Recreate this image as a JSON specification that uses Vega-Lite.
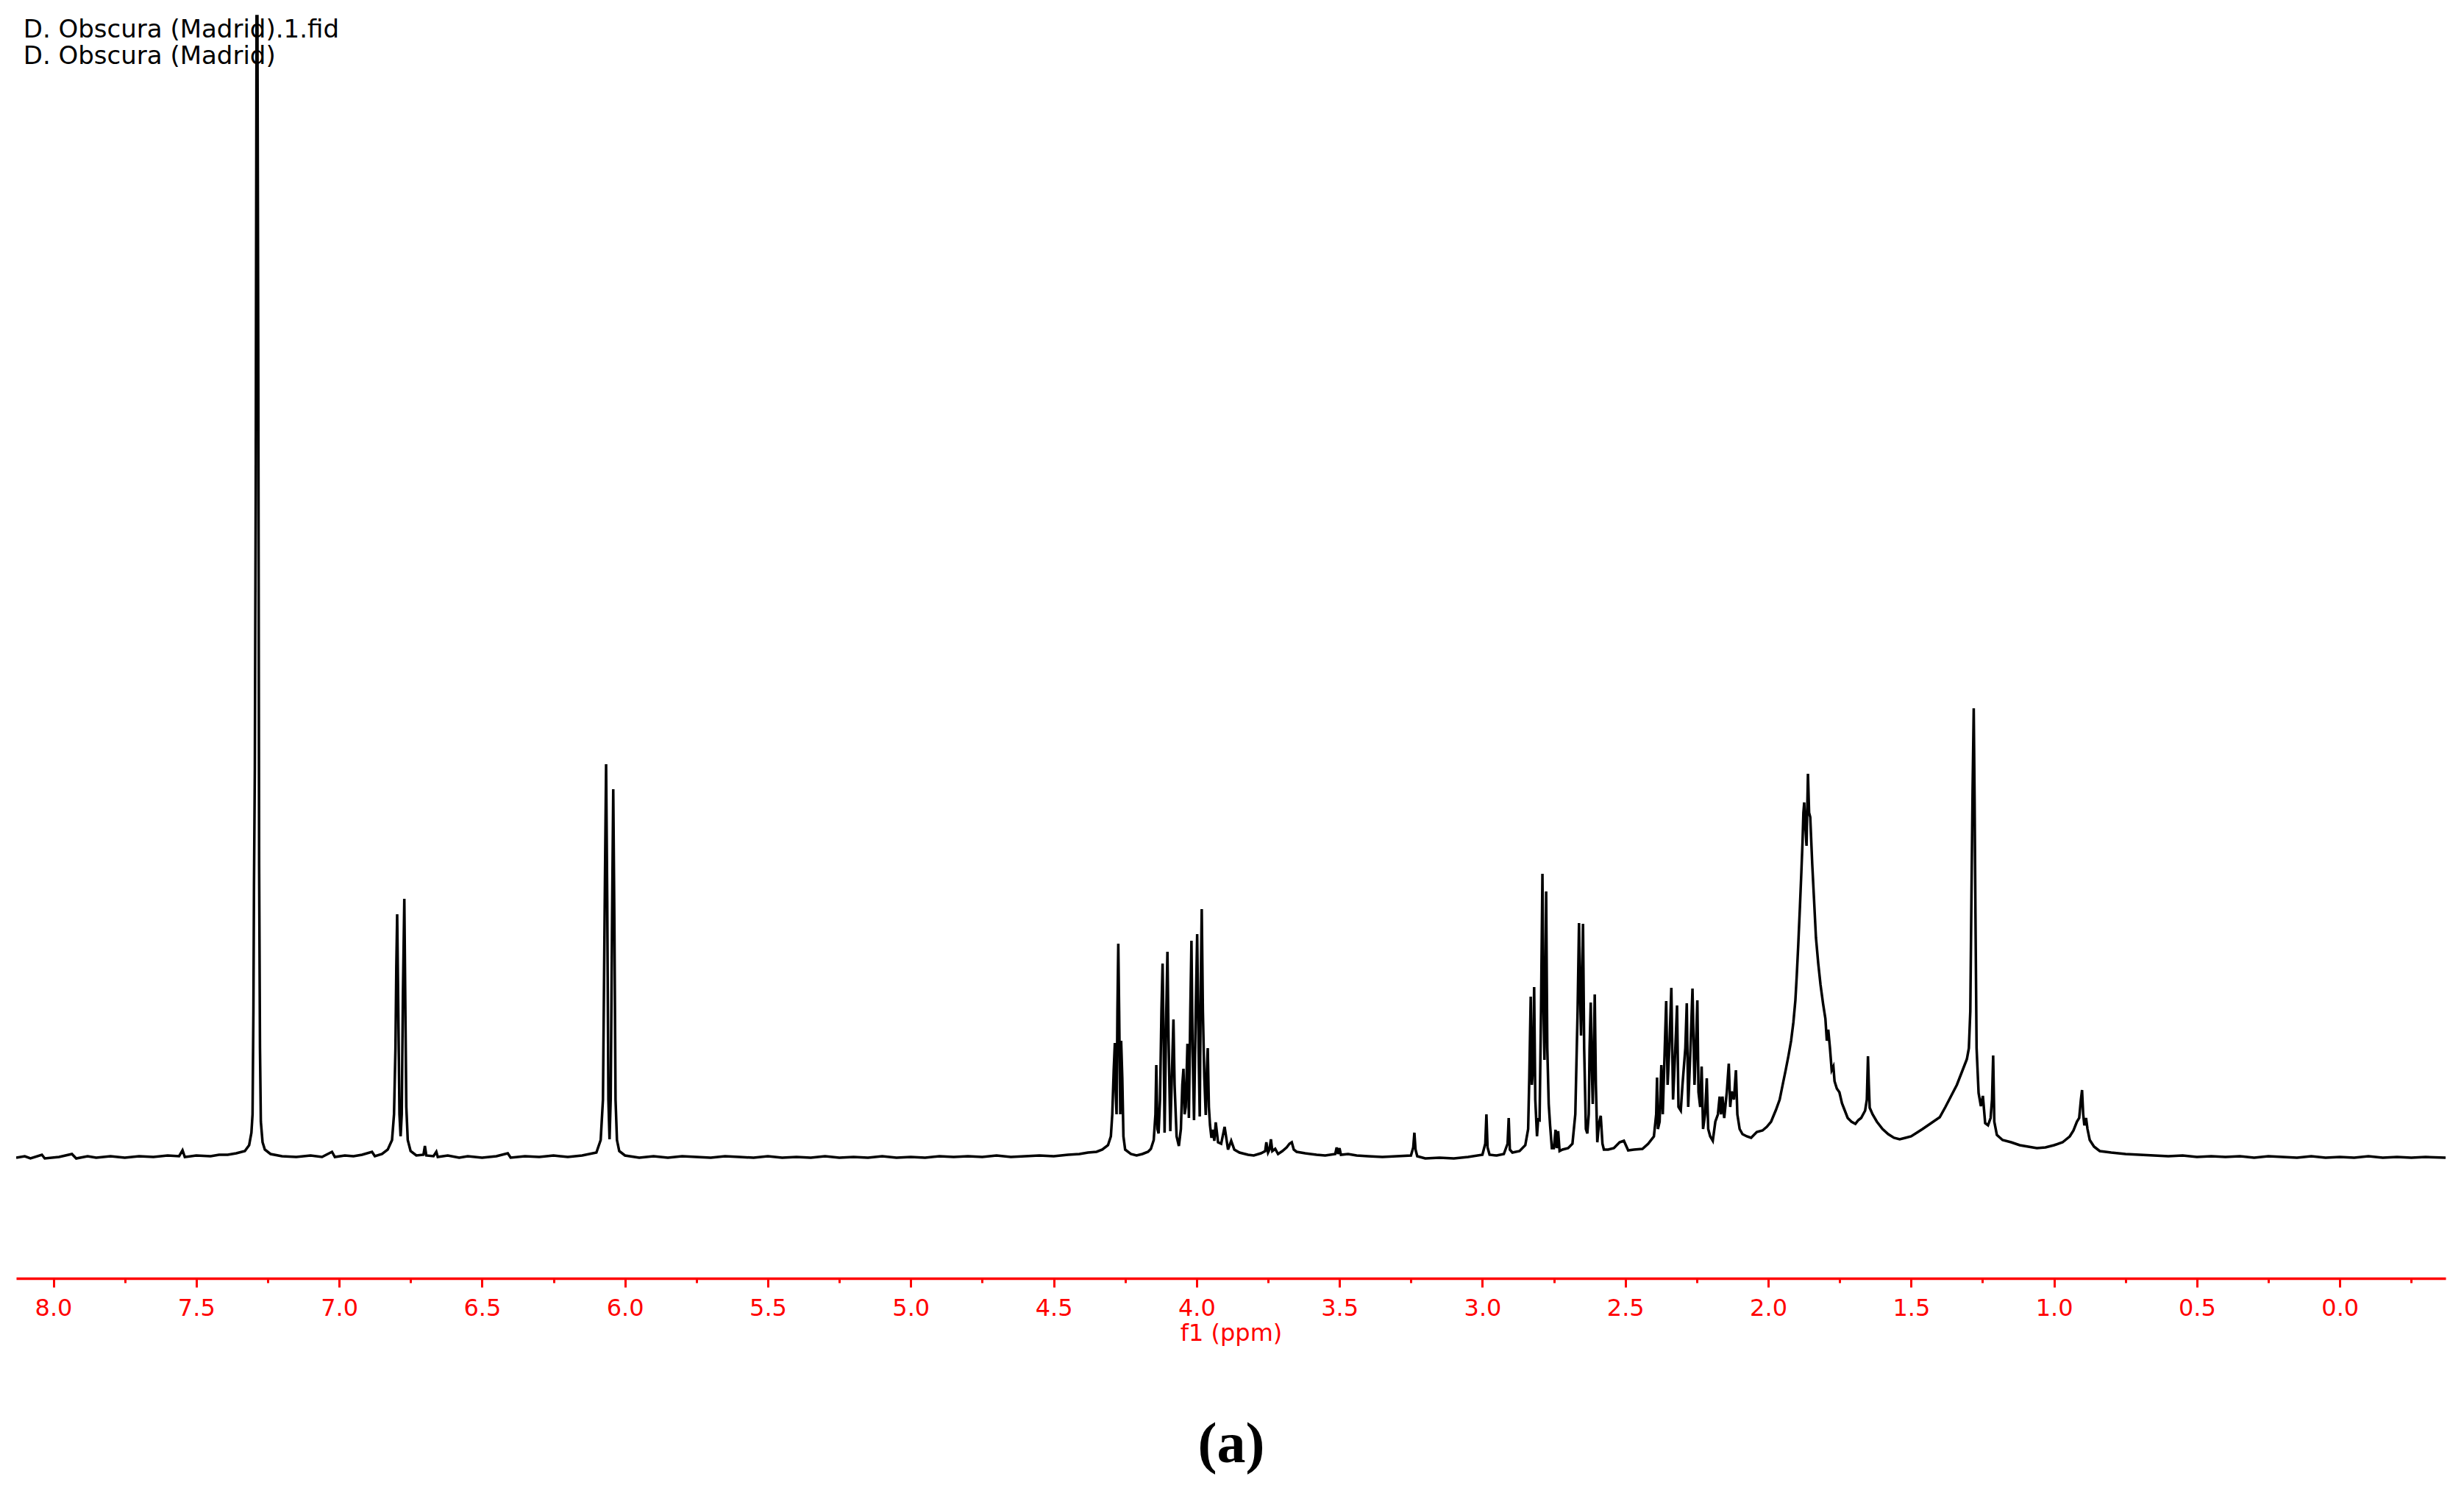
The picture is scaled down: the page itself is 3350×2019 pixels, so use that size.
{
  "$schema": "https://vega.github.io/schema/vega-lite/v6.json",
  "width": 3303,
  "height": 1738,
  "autosize": {"type": "none"},
  "padding": {"left": 22, "right": 25, "top": 0, "bottom": 281},
  "background": "white",
  "config": {"view": {"stroke": null}},
  "data": {"values": [
    {"ppm": 8.13, "intensity": 1}, {"ppm": 8.1, "intensity": 3}, {"ppm": 8.08, "intensity": 0}, {"ppm": 8.04, "intensity": 5},
    {"ppm": 8.03, "intensity": 0}, {"ppm": 7.98, "intensity": 2}, {"ppm": 7.935, "intensity": 6}, {"ppm": 7.92, "intensity": 0},
    {"ppm": 7.88, "intensity": 3}, {"ppm": 7.85, "intensity": 1}, {"ppm": 7.8, "intensity": 3}, {"ppm": 7.75, "intensity": 1},
    {"ppm": 7.7, "intensity": 3}, {"ppm": 7.65, "intensity": 2}, {"ppm": 7.6, "intensity": 4}, {"ppm": 7.56, "intensity": 3},
    {"ppm": 7.548, "intensity": 11}, {"ppm": 7.54, "intensity": 2}, {"ppm": 7.5, "intensity": 4}, {"ppm": 7.45, "intensity": 3},
    {"ppm": 7.42, "intensity": 5}, {"ppm": 7.39, "intensity": 5}, {"ppm": 7.36, "intensity": 7}, {"ppm": 7.33, "intensity": 10},
    {"ppm": 7.315, "intensity": 18}, {"ppm": 7.307, "intensity": 35}, {"ppm": 7.303, "intensity": 60}, {"ppm": 7.3, "intensity": 200},
    {"ppm": 7.298, "intensity": 370}, {"ppm": 7.295, "intensity": 530}, {"ppm": 7.292, "intensity": 900}, {"ppm": 7.289, "intensity": 1553},
    {"ppm": 7.286, "intensity": 1553}, {"ppm": 7.283, "intensity": 1100}, {"ppm": 7.28, "intensity": 400}, {"ppm": 7.277, "intensity": 150},
    {"ppm": 7.274, "intensity": 50}, {"ppm": 7.268, "intensity": 22}, {"ppm": 7.26, "intensity": 12}, {"ppm": 7.24, "intensity": 6},
    {"ppm": 7.2, "intensity": 3}, {"ppm": 7.15, "intensity": 2}, {"ppm": 7.1, "intensity": 4}, {"ppm": 7.06, "intensity": 2},
    {"ppm": 7.025, "intensity": 9}, {"ppm": 7.015, "intensity": 2}, {"ppm": 6.98, "intensity": 4}, {"ppm": 6.95, "intensity": 3},
    {"ppm": 6.92, "intensity": 5}, {"ppm": 6.885, "intensity": 9}, {"ppm": 6.875, "intensity": 3}, {"ppm": 6.85, "intensity": 6},
    {"ppm": 6.83, "intensity": 12}, {"ppm": 6.815, "intensity": 25}, {"ppm": 6.808, "intensity": 60}, {"ppm": 6.803, "intensity": 150},
    {"ppm": 6.8, "intensity": 260}, {"ppm": 6.797, "intensity": 332}, {"ppm": 6.793, "intensity": 200}, {"ppm": 6.789, "intensity": 60},
    {"ppm": 6.785, "intensity": 30}, {"ppm": 6.781, "intensity": 60}, {"ppm": 6.777, "intensity": 220}, {"ppm": 6.772, "intensity": 353},
    {"ppm": 6.769, "intensity": 230}, {"ppm": 6.765, "intensity": 70}, {"ppm": 6.76, "intensity": 25}, {"ppm": 6.75, "intensity": 10},
    {"ppm": 6.73, "intensity": 4}, {"ppm": 6.705, "intensity": 5}, {"ppm": 6.7, "intensity": 17}, {"ppm": 6.695, "intensity": 4},
    {"ppm": 6.67, "intensity": 3}, {"ppm": 6.66, "intensity": 9}, {"ppm": 6.655, "intensity": 2}, {"ppm": 6.62, "intensity": 4},
    {"ppm": 6.58, "intensity": 1}, {"ppm": 6.55, "intensity": 3}, {"ppm": 6.5, "intensity": 1}, {"ppm": 6.45, "intensity": 3},
    {"ppm": 6.41, "intensity": 7}, {"ppm": 6.4, "intensity": 1}, {"ppm": 6.35, "intensity": 3}, {"ppm": 6.3, "intensity": 2},
    {"ppm": 6.25, "intensity": 4}, {"ppm": 6.2, "intensity": 2}, {"ppm": 6.15, "intensity": 4}, {"ppm": 6.1, "intensity": 8},
    {"ppm": 6.085, "intensity": 25}, {"ppm": 6.077, "intensity": 80}, {"ppm": 6.07, "intensity": 380}, {"ppm": 6.066, "intensity": 536},
    {"ppm": 6.062, "intensity": 350}, {"ppm": 6.058, "intensity": 80}, {"ppm": 6.054, "intensity": 26}, {"ppm": 6.05, "intensity": 80},
    {"ppm": 6.045, "intensity": 330}, {"ppm": 6.041, "intensity": 502}, {"ppm": 6.037, "intensity": 320}, {"ppm": 6.033, "intensity": 80},
    {"ppm": 6.028, "intensity": 25}, {"ppm": 6.02, "intensity": 10}, {"ppm": 6.0, "intensity": 4}, {"ppm": 5.95, "intensity": 1},
    {"ppm": 5.9, "intensity": 3}, {"ppm": 5.85, "intensity": 1}, {"ppm": 5.8, "intensity": 3}, {"ppm": 5.75, "intensity": 2},
    {"ppm": 5.7, "intensity": 1}, {"ppm": 5.65, "intensity": 3}, {"ppm": 5.6, "intensity": 2}, {"ppm": 5.55, "intensity": 1},
    {"ppm": 5.5, "intensity": 3}, {"ppm": 5.45, "intensity": 1}, {"ppm": 5.4, "intensity": 2}, {"ppm": 5.35, "intensity": 1},
    {"ppm": 5.3, "intensity": 3}, {"ppm": 5.25, "intensity": 1}, {"ppm": 5.2, "intensity": 2}, {"ppm": 5.15, "intensity": 1},
    {"ppm": 5.1, "intensity": 3}, {"ppm": 5.05, "intensity": 1}, {"ppm": 5.0, "intensity": 2}, {"ppm": 4.95, "intensity": 1},
    {"ppm": 4.9, "intensity": 3}, {"ppm": 4.85, "intensity": 2}, {"ppm": 4.8, "intensity": 3}, {"ppm": 4.75, "intensity": 2},
    {"ppm": 4.7, "intensity": 4}, {"ppm": 4.65, "intensity": 2}, {"ppm": 4.6, "intensity": 3}, {"ppm": 4.55, "intensity": 4},
    {"ppm": 4.5, "intensity": 3}, {"ppm": 4.45, "intensity": 5}, {"ppm": 4.41, "intensity": 6}, {"ppm": 4.38, "intensity": 8},
    {"ppm": 4.35, "intensity": 9}, {"ppm": 4.33, "intensity": 12}, {"ppm": 4.31, "intensity": 18}, {"ppm": 4.3, "intensity": 30},
    {"ppm": 4.295, "intensity": 60}, {"ppm": 4.29, "intensity": 120}, {"ppm": 4.286, "intensity": 157}, {"ppm": 4.283, "intensity": 90},
    {"ppm": 4.28, "intensity": 60}, {"ppm": 4.277, "intensity": 200}, {"ppm": 4.274, "intensity": 292}, {"ppm": 4.271, "intensity": 200},
    {"ppm": 4.267, "intensity": 60}, {"ppm": 4.264, "intensity": 160}, {"ppm": 4.26, "intensity": 110}, {"ppm": 4.256, "intensity": 30},
    {"ppm": 4.25, "intensity": 12}, {"ppm": 4.23, "intensity": 6}, {"ppm": 4.21, "intensity": 4}, {"ppm": 4.19, "intensity": 6},
    {"ppm": 4.17, "intensity": 9}, {"ppm": 4.16, "intensity": 13}, {"ppm": 4.15, "intensity": 25}, {"ppm": 4.144, "intensity": 60},
    {"ppm": 4.141, "intensity": 127}, {"ppm": 4.137, "intensity": 40}, {"ppm": 4.133, "intensity": 34}, {"ppm": 4.128, "intensity": 80},
    {"ppm": 4.123, "intensity": 200}, {"ppm": 4.119, "intensity": 265}, {"ppm": 4.115, "intensity": 150}, {"ppm": 4.112, "intensity": 35},
    {"ppm": 4.106, "intensity": 200}, {"ppm": 4.102, "intensity": 281}, {"ppm": 4.098, "intensity": 160}, {"ppm": 4.092, "intensity": 37},
    {"ppm": 4.086, "intensity": 120}, {"ppm": 4.081, "intensity": 189}, {"ppm": 4.077, "intensity": 100}, {"ppm": 4.07, "intensity": 30},
    {"ppm": 4.062, "intensity": 17}, {"ppm": 4.055, "intensity": 40}, {"ppm": 4.05, "intensity": 100}, {"ppm": 4.046, "intensity": 122},
    {"ppm": 4.042, "intensity": 60}, {"ppm": 4.038, "intensity": 70}, {"ppm": 4.032, "intensity": 156}, {"ppm": 4.027, "intensity": 55},
    {"ppm": 4.022, "intensity": 200}, {"ppm": 4.018, "intensity": 296}, {"ppm": 4.014, "intensity": 150}, {"ppm": 4.009, "intensity": 52},
    {"ppm": 4.003, "intensity": 200}, {"ppm": 3.998, "intensity": 305}, {"ppm": 3.993, "intensity": 150}, {"ppm": 3.989, "intensity": 57},
    {"ppm": 3.985, "intensity": 250}, {"ppm": 3.982, "intensity": 339}, {"ppm": 3.978, "intensity": 200}, {"ppm": 3.973, "intensity": 111},
    {"ppm": 3.968, "intensity": 59}, {"ppm": 3.964, "intensity": 120}, {"ppm": 3.961, "intensity": 150}, {"ppm": 3.957, "intensity": 70},
    {"ppm": 3.953, "intensity": 45}, {"ppm": 3.948, "intensity": 28}, {"ppm": 3.943, "intensity": 39}, {"ppm": 3.938, "intensity": 24},
    {"ppm": 3.933, "intensity": 49}, {"ppm": 3.925, "intensity": 22}, {"ppm": 3.914, "intensity": 20}, {"ppm": 3.902, "intensity": 43},
    {"ppm": 3.89, "intensity": 12}, {"ppm": 3.879, "intensity": 24}, {"ppm": 3.868, "intensity": 12}, {"ppm": 3.85, "intensity": 8},
    {"ppm": 3.82, "intensity": 5}, {"ppm": 3.8, "intensity": 4}, {"ppm": 3.775, "intensity": 7}, {"ppm": 3.76, "intensity": 10},
    {"ppm": 3.756, "intensity": 22}, {"ppm": 3.75, "intensity": 8}, {"ppm": 3.745, "intensity": 12}, {"ppm": 3.74, "intensity": 26},
    {"ppm": 3.735, "intensity": 10}, {"ppm": 3.725, "intensity": 13}, {"ppm": 3.715, "intensity": 6}, {"ppm": 3.7, "intensity": 10},
    {"ppm": 3.685, "intensity": 15}, {"ppm": 3.675, "intensity": 20}, {"ppm": 3.667, "intensity": 22}, {"ppm": 3.66, "intensity": 12},
    {"ppm": 3.65, "intensity": 9}, {"ppm": 3.62, "intensity": 7}, {"ppm": 3.58, "intensity": 5}, {"ppm": 3.55, "intensity": 4},
    {"ppm": 3.515, "intensity": 6}, {"ppm": 3.51, "intensity": 15}, {"ppm": 3.505, "intensity": 6}, {"ppm": 3.5, "intensity": 14},
    {"ppm": 3.495, "intensity": 5}, {"ppm": 3.47, "intensity": 6}, {"ppm": 3.44, "intensity": 4}, {"ppm": 3.4, "intensity": 3},
    {"ppm": 3.35, "intensity": 2}, {"ppm": 3.3, "intensity": 3}, {"ppm": 3.25, "intensity": 4}, {"ppm": 3.242, "intensity": 15},
    {"ppm": 3.238, "intensity": 35}, {"ppm": 3.234, "intensity": 12}, {"ppm": 3.228, "intensity": 3}, {"ppm": 3.2, "intensity": 0},
    {"ppm": 3.15, "intensity": 1}, {"ppm": 3.1, "intensity": 0}, {"ppm": 3.05, "intensity": 2}, {"ppm": 3.0, "intensity": 5},
    {"ppm": 2.99, "intensity": 20}, {"ppm": 2.986, "intensity": 60}, {"ppm": 2.982, "intensity": 15}, {"ppm": 2.975, "intensity": 5},
    {"ppm": 2.95, "intensity": 4}, {"ppm": 2.925, "intensity": 6}, {"ppm": 2.912, "intensity": 20}, {"ppm": 2.908, "intensity": 55},
    {"ppm": 2.904, "intensity": 12}, {"ppm": 2.895, "intensity": 8}, {"ppm": 2.87, "intensity": 10}, {"ppm": 2.85, "intensity": 18},
    {"ppm": 2.84, "intensity": 40}, {"ppm": 2.836, "intensity": 110}, {"ppm": 2.831, "intensity": 220}, {"ppm": 2.827, "intensity": 100},
    {"ppm": 2.822, "intensity": 130}, {"ppm": 2.819, "intensity": 233}, {"ppm": 2.815, "intensity": 80}, {"ppm": 2.809, "intensity": 30},
    {"ppm": 2.805, "intensity": 53}, {"ppm": 2.8, "intensity": 52}, {"ppm": 2.795, "intensity": 200}, {"ppm": 2.79, "intensity": 387},
    {"ppm": 2.786, "intensity": 200}, {"ppm": 2.783, "intensity": 134}, {"ppm": 2.779, "intensity": 250}, {"ppm": 2.777, "intensity": 363},
    {"ppm": 2.773, "intensity": 150}, {"ppm": 2.768, "intensity": 74}, {"ppm": 2.763, "intensity": 44}, {"ppm": 2.757, "intensity": 14},
    {"ppm": 2.75, "intensity": 14}, {"ppm": 2.744, "intensity": 39}, {"ppm": 2.74, "intensity": 14}, {"ppm": 2.735, "intensity": 37},
    {"ppm": 2.73, "intensity": 10}, {"ppm": 2.72, "intensity": 12}, {"ppm": 2.7, "intensity": 14}, {"ppm": 2.685, "intensity": 20},
    {"ppm": 2.675, "intensity": 60}, {"ppm": 2.667, "intensity": 200}, {"ppm": 2.662, "intensity": 320}, {"ppm": 2.658, "intensity": 220},
    {"ppm": 2.655, "intensity": 167}, {"ppm": 2.651, "intensity": 250}, {"ppm": 2.648, "intensity": 319}, {"ppm": 2.644, "intensity": 150},
    {"ppm": 2.638, "intensity": 40}, {"ppm": 2.633, "intensity": 34}, {"ppm": 2.628, "intensity": 60}, {"ppm": 2.625, "intensity": 150},
    {"ppm": 2.621, "intensity": 212}, {"ppm": 2.617, "intensity": 120}, {"ppm": 2.614, "intensity": 74}, {"ppm": 2.61, "intensity": 150},
    {"ppm": 2.607, "intensity": 223}, {"ppm": 2.603, "intensity": 100}, {"ppm": 2.598, "intensity": 22}, {"ppm": 2.592, "intensity": 48},
    {"ppm": 2.586, "intensity": 58}, {"ppm": 2.58, "intensity": 20}, {"ppm": 2.575, "intensity": 12}, {"ppm": 2.56, "intensity": 12},
    {"ppm": 2.54, "intensity": 14}, {"ppm": 2.52, "intensity": 22}, {"ppm": 2.505, "intensity": 24}, {"ppm": 2.49, "intensity": 11},
    {"ppm": 2.47, "intensity": 12}, {"ppm": 2.44, "intensity": 13}, {"ppm": 2.42, "intensity": 20}, {"ppm": 2.4, "intensity": 30},
    {"ppm": 2.392, "intensity": 60}, {"ppm": 2.389, "intensity": 110}, {"ppm": 2.386, "intensity": 40}, {"ppm": 2.38, "intensity": 50},
    {"ppm": 2.374, "intensity": 127}, {"ppm": 2.369, "intensity": 60}, {"ppm": 2.362, "intensity": 150}, {"ppm": 2.357, "intensity": 214},
    {"ppm": 2.352, "intensity": 100}, {"ppm": 2.346, "intensity": 150}, {"ppm": 2.339, "intensity": 232}, {"ppm": 2.333, "intensity": 80},
    {"ppm": 2.325, "intensity": 150}, {"ppm": 2.319, "intensity": 208}, {"ppm": 2.314, "intensity": 70}, {"ppm": 2.306, "intensity": 65},
    {"ppm": 2.3, "intensity": 100}, {"ppm": 2.29, "intensity": 150}, {"ppm": 2.285, "intensity": 211}, {"ppm": 2.28, "intensity": 70},
    {"ppm": 2.272, "intensity": 150}, {"ppm": 2.265, "intensity": 231}, {"ppm": 2.258, "intensity": 100}, {"ppm": 2.253, "intensity": 150},
    {"ppm": 2.248, "intensity": 215}, {"ppm": 2.244, "intensity": 90}, {"ppm": 2.238, "intensity": 70}, {"ppm": 2.233, "intensity": 125},
    {"ppm": 2.228, "intensity": 40}, {"ppm": 2.221, "intensity": 60}, {"ppm": 2.215, "intensity": 109}, {"ppm": 2.21, "intensity": 40},
    {"ppm": 2.203, "intensity": 30}, {"ppm": 2.194, "intensity": 24}, {"ppm": 2.185, "intensity": 50}, {"ppm": 2.176, "intensity": 60},
    {"ppm": 2.17, "intensity": 84}, {"ppm": 2.165, "intensity": 60}, {"ppm": 2.16, "intensity": 84}, {"ppm": 2.154, "intensity": 55},
    {"ppm": 2.145, "intensity": 90}, {"ppm": 2.138, "intensity": 129}, {"ppm": 2.133, "intensity": 70}, {"ppm": 2.128, "intensity": 91},
    {"ppm": 2.12, "intensity": 80}, {"ppm": 2.113, "intensity": 120}, {"ppm": 2.108, "intensity": 60}, {"ppm": 2.1, "intensity": 40},
    {"ppm": 2.09, "intensity": 33}, {"ppm": 2.075, "intensity": 30}, {"ppm": 2.06, "intensity": 28}, {"ppm": 2.04, "intensity": 36},
    {"ppm": 2.02, "intensity": 38}, {"ppm": 2.005, "intensity": 43}, {"ppm": 1.99, "intensity": 50}, {"ppm": 1.973, "intensity": 66},
    {"ppm": 1.96, "intensity": 80}, {"ppm": 1.948, "intensity": 103}, {"ppm": 1.939, "intensity": 120}, {"ppm": 1.929, "intensity": 140},
    {"ppm": 1.92, "intensity": 160}, {"ppm": 1.912, "intensity": 185}, {"ppm": 1.905, "intensity": 215}, {"ppm": 1.9, "intensity": 250},
    {"ppm": 1.895, "intensity": 290}, {"ppm": 1.889, "intensity": 343}, {"ppm": 1.884, "intensity": 390}, {"ppm": 1.88, "intensity": 430},
    {"ppm": 1.877, "intensity": 470}, {"ppm": 1.874, "intensity": 484}, {"ppm": 1.87, "intensity": 450}, {"ppm": 1.866, "intensity": 425},
    {"ppm": 1.861, "intensity": 523}, {"ppm": 1.857, "intensity": 470}, {"ppm": 1.853, "intensity": 464}, {"ppm": 1.846, "intensity": 400},
    {"ppm": 1.84, "intensity": 354}, {"ppm": 1.833, "intensity": 300}, {"ppm": 1.825, "intensity": 265}, {"ppm": 1.817, "intensity": 236},
    {"ppm": 1.808, "intensity": 210}, {"ppm": 1.8, "intensity": 190}, {"ppm": 1.795, "intensity": 160}, {"ppm": 1.79, "intensity": 175},
    {"ppm": 1.784, "intensity": 150}, {"ppm": 1.778, "intensity": 120}, {"ppm": 1.772, "intensity": 125}, {"ppm": 1.768, "intensity": 105},
    {"ppm": 1.76, "intensity": 95}, {"ppm": 1.751, "intensity": 90}, {"ppm": 1.742, "intensity": 75}, {"ppm": 1.735, "intensity": 68},
    {"ppm": 1.722, "intensity": 55}, {"ppm": 1.709, "intensity": 50}, {"ppm": 1.695, "intensity": 47}, {"ppm": 1.685, "intensity": 52},
    {"ppm": 1.675, "intensity": 55}, {"ppm": 1.661, "intensity": 65}, {"ppm": 1.655, "intensity": 80}, {"ppm": 1.651, "intensity": 139},
    {"ppm": 1.648, "intensity": 100}, {"ppm": 1.645, "intensity": 69}, {"ppm": 1.635, "intensity": 60}, {"ppm": 1.62, "intensity": 50},
    {"ppm": 1.6, "intensity": 40}, {"ppm": 1.58, "intensity": 33}, {"ppm": 1.56, "intensity": 28}, {"ppm": 1.54, "intensity": 26},
    {"ppm": 1.52, "intensity": 28}, {"ppm": 1.5, "intensity": 30}, {"ppm": 1.48, "intensity": 35}, {"ppm": 1.46, "intensity": 40},
    {"ppm": 1.43, "intensity": 48}, {"ppm": 1.4, "intensity": 56}, {"ppm": 1.38, "intensity": 70}, {"ppm": 1.36, "intensity": 85},
    {"ppm": 1.34, "intensity": 100}, {"ppm": 1.32, "intensity": 120}, {"ppm": 1.305, "intensity": 135}, {"ppm": 1.298, "intensity": 150},
    {"ppm": 1.293, "intensity": 200}, {"ppm": 1.289, "intensity": 356}, {"ppm": 1.285, "intensity": 500}, {"ppm": 1.281, "intensity": 612},
    {"ppm": 1.278, "intensity": 489}, {"ppm": 1.275, "intensity": 333}, {"ppm": 1.271, "intensity": 150}, {"ppm": 1.264, "intensity": 89},
    {"ppm": 1.256, "intensity": 71}, {"ppm": 1.249, "intensity": 85}, {"ppm": 1.241, "intensity": 48}, {"ppm": 1.231, "intensity": 45},
    {"ppm": 1.222, "intensity": 55}, {"ppm": 1.217, "intensity": 80}, {"ppm": 1.213, "intensity": 140}, {"ppm": 1.209, "intensity": 50},
    {"ppm": 1.2, "intensity": 32}, {"ppm": 1.18, "intensity": 25}, {"ppm": 1.15, "intensity": 22}, {"ppm": 1.12, "intensity": 18},
    {"ppm": 1.09, "intensity": 16}, {"ppm": 1.06, "intensity": 14}, {"ppm": 1.03, "intensity": 15}, {"ppm": 1.0, "intensity": 18},
    {"ppm": 0.97, "intensity": 22}, {"ppm": 0.945, "intensity": 30}, {"ppm": 0.932, "intensity": 38}, {"ppm": 0.92, "intensity": 50},
    {"ppm": 0.912, "intensity": 55}, {"ppm": 0.906, "intensity": 80}, {"ppm": 0.902, "intensity": 93}, {"ppm": 0.898, "intensity": 60},
    {"ppm": 0.894, "intensity": 45}, {"ppm": 0.888, "intensity": 55}, {"ppm": 0.883, "intensity": 40}, {"ppm": 0.875, "intensity": 25},
    {"ppm": 0.86, "intensity": 16}, {"ppm": 0.84, "intensity": 10}, {"ppm": 0.8, "intensity": 8}, {"ppm": 0.75, "intensity": 6},
    {"ppm": 0.7, "intensity": 5}, {"ppm": 0.65, "intensity": 4}, {"ppm": 0.6, "intensity": 3}, {"ppm": 0.55, "intensity": 4},
    {"ppm": 0.5, "intensity": 2}, {"ppm": 0.45, "intensity": 3}, {"ppm": 0.4, "intensity": 2}, {"ppm": 0.35, "intensity": 3},
    {"ppm": 0.3, "intensity": 1}, {"ppm": 0.25, "intensity": 3}, {"ppm": 0.2, "intensity": 2}, {"ppm": 0.15, "intensity": 1},
    {"ppm": 0.1, "intensity": 3}, {"ppm": 0.05, "intensity": 1}, {"ppm": 0.0, "intensity": 2}, {"ppm": -0.05, "intensity": 1},
    {"ppm": -0.1, "intensity": 3}, {"ppm": -0.15, "intensity": 1}, {"ppm": -0.2, "intensity": 2}, {"ppm": -0.25, "intensity": 1},
    {"ppm": -0.3, "intensity": 2}, {"ppm": -0.37, "intensity": 1}
  ]},
  "layer": [
    {
      "mark": {"type": "line", "color": "black", "strokeWidth": 3.5, "clip": true},
      "encoding": {
        "x": {
          "field": "ppm", "type": "quantitative",
          "scale": {"domain": [-0.37, 8.13], "reverse": true, "nice": false, "zero": false},
          "axis": {
            "orient": "bottom",
            "values": [0, 0.5, 1, 1.5, 2, 2.5, 3, 3.5, 4, 4.5, 5, 5.5, 6, 6.5, 7, 7.5, 8],
            "format": ".1f", "grid": false,
            "domainColor": "#ff0000", "domainWidth": 3.5,
            "tickColor": "#ff0000", "tickWidth": 3, "tickSize": 12,
            "labelColor": "#ff0000", "labelFont": "DejaVu Sans", "labelFontSize": 32,
            "labelPadding": 13, "labelFlush": false, "labelOverlap": false,
            "title": "f1 (ppm)", "titleColor": "#ff0000", "titleFont": "DejaVu Sans",
            "titleFontSize": 32, "titleFontWeight": "normal", "titlePadding": 3
          }
        },
        "y": {
          "field": "intensity", "type": "quantitative",
          "scale": {"domain": [-163, 1575], "nice": false, "zero": false},
          "axis": null
        }
      }
    },
    {
      "mark": {"type": "line", "color": "black", "strokeWidth": 3, "opacity": 0, "clip": true},
      "encoding": {
        "x": {
          "field": "ppm", "type": "quantitative",
          "scale": {"domain": [-0.37, 8.13], "reverse": true, "nice": false, "zero": false},
          "axis": {
            "orient": "bottom",
            "values": [-0.25, 0.25, 0.75, 1.25, 1.75, 2.25, 2.75, 3.25, 3.75, 4.25, 4.75, 5.25, 5.75, 6.25, 6.75, 7.25, 7.75],
            "labels": false, "domain": false, "grid": false,
            "tickColor": "#ff0000", "tickWidth": 3, "tickSize": 6,
            "title": "(a)", "titleColor": "black", "titleFont": "Liberation Serif",
            "titleFontSize": 78, "titleFontWeight": "bold", "titlePadding": 180
          }
        },
        "y": {
          "field": "intensity", "type": "quantitative",
          "scale": {"domain": [-163, 1575], "nice": false, "zero": false},
          "axis": null
        }
      }
    },
    {
      "data": {"values": [{}]},
      "mark": {"type": "text", "align": "left", "baseline": "middle", "font": "DejaVu Sans", "fontSize": 34, "color": "black"},
      "encoding": {
        "x": {"datum": 8.105, "type": "quantitative", "axis": null},
        "y": {"datum": 1534, "type": "quantitative", "axis": null},
        "text": {"value": "D. Obscura (Madrid).1.fid"}
      }
    },
    {
      "data": {"values": [{}]},
      "mark": {"type": "text", "align": "left", "baseline": "middle", "font": "DejaVu Sans", "fontSize": 34, "color": "black"},
      "encoding": {
        "x": {"datum": 8.105, "type": "quantitative", "axis": null},
        "y": {"datum": 1498, "type": "quantitative", "axis": null},
        "text": {"value": "D. Obscura (Madrid)"}
      }
    }
  ],
  "resolve": {"axis": {"x": "independent"}}
}
